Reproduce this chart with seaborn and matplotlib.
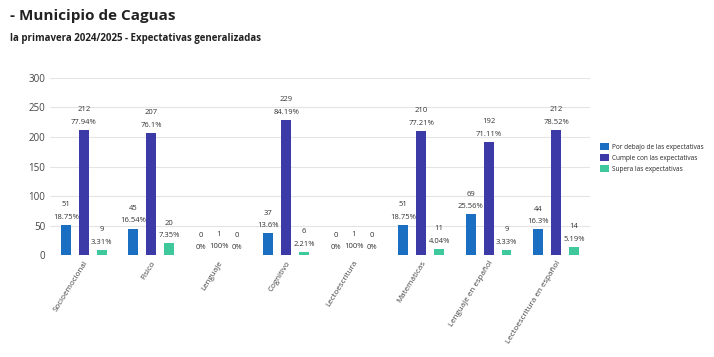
import pandas as pd
import matplotlib
matplotlib.use("Agg")
import matplotlib.pyplot as plt
import seaborn as sns

sns.set_style("white")
plt.rcParams['font.family'] = ['Open Sans', 'DejaVu Sans']

# datos
categorias = ['Socioemocional', 'Físico', 'Lenguaje', 'Cognitivo', 'Lectoescritura',
              'Matemáticas', 'Lenguaje en español', 'Lectoescritura en español']
por_debajo = [51, 45, 0, 37, 0, 51, 69, 44]
cumple = [212, 207, 1, 229, 1, 210, 192, 212]
supera = [9, 20, 0, 6, 0, 11, 9, 14]
pct_debajo = ['18.75%', '16.54%', '0%', '13.6%', '0%', '18.75%', '25.56%', '16.3%']
pct_cumple = ['77.94%', '76.1%', '100%', '84.19%', '100%', '77.21%', '71.11%', '78.52%']
pct_supera = ['3.31%', '7.35%', '0%', '2.21%', '0%', '4.04%', '3.33%', '5.19%']
niveles = ['Por debajo de las expectativas', 'Cumple con las expectativas', 'Supera las expectativas']
colores = ['#1b6fc2', '#3c3aa6', '#3ec89c']

df = pd.DataFrame({
    'categoria': categorias * 3,
    'nivel': [niveles[0]] * 8 + [niveles[1]] * 8 + [niveles[2]] * 8,
    'valor': por_debajo + cumple + supera,
    'pct': pct_debajo + pct_cumple + pct_supera,
})

fig = plt.figure(figsize=(7.14, 3.57), dpi=100)
ax = fig.add_axes([0.07, 0.285, 0.756, 0.497])
sns.barplot(data=df, x='categoria', y='valor', hue='nivel', palette=colores,
            order=categorias, hue_order=niveles, gap=0.45, width=0.8,
            saturation=1, edgecolor='none', ax=ax)

# etiquetas encima de cada barra
for cont, nivel in zip(ax.containers, niveles):
    sub = df[df['nivel'] == nivel]
    for bar, v, p in zip(cont, sub['valor'], sub['pct']):
        x = bar.get_x() + bar.get_width() / 2
        h = bar.get_height()
        ax.annotate(p, (x, h), xytext=(0, 3), textcoords='offset points',
                    ha='center', va='bottom', fontsize=5.5, color='#333333')
        ax.annotate(str(v), (x, h), xytext=(0, 12), textcoords='offset points',
                    ha='center', va='bottom', fontsize=5.5, color='#333333')

ax.set_ylim(0, 300)
ax.set_yticks([0, 50, 100, 150, 200, 250, 300])
ax.yaxis.grid(True, color='#e4e4e4', linewidth=0.8)
ax.set_axisbelow(True)
ax.set_xlabel('')
ax.set_ylabel('')
ax.tick_params(axis='y', labelsize=7, colors='#444444', length=0)
ax.tick_params(axis='x', labelsize=5.8, colors='#444444', length=0, pad=3)
plt.setp(ax.get_xticklabels(), rotation=58, ha='right', rotation_mode='anchor')
sns.despine(ax=ax, left=True, bottom=True)

ax.legend(loc='center left', bbox_to_anchor=(1.015, 0.55), frameon=False,
          fontsize=4.7, handlelength=1.3, handleheight=1.3, labelspacing=0.5,
          handletextpad=0.4, borderaxespad=0)

fig.text(0.014, 0.955, '- Municipio de Caguas', fontsize=11, fontweight='bold',
         color='#222222', va='center')
fig.text(0.014, 0.893, 'la primavera 2024/2025 - Expectativas generalizadas', fontsize=7,
         fontweight='bold', color='#222222', va='center')

fig.savefig('out.png', dpi=100, facecolor='white')
